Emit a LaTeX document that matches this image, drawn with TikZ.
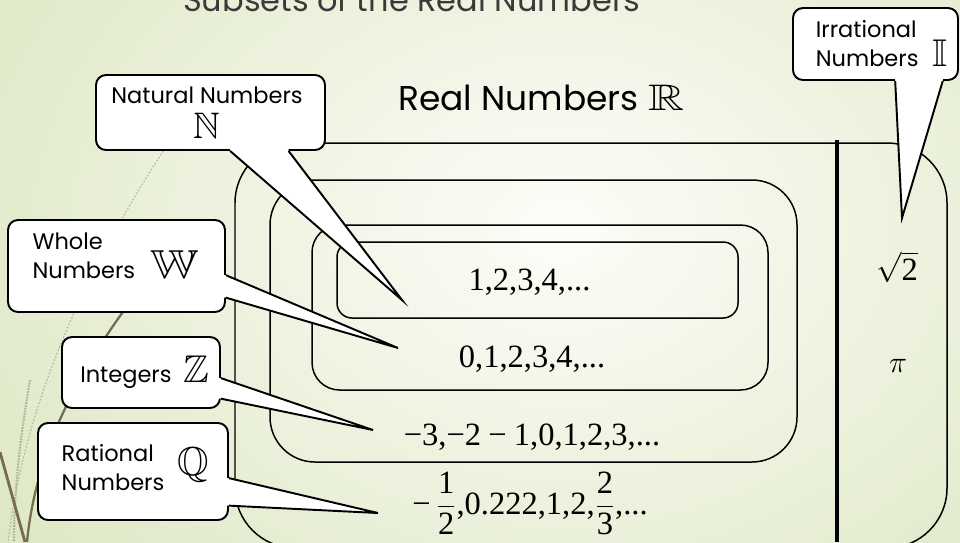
\documentclass[tikz,border=0pt]{standalone}
\usepackage{amsmath,amssymb}
\usepackage{fontspec}
\newfontfamily\gothic{Poppins}
\newfontfamily\numfont{Liberation Serif}
\usetikzlibrary{calc}
\definecolor{bgin}{HTML}{FCFDF8}
\definecolor{bgout}{HTML}{D6E2B8}
\definecolor{stem}{HTML}{776C52}
\definecolor{stemfaint}{HTML}{B3B497}
\definecolor{titlegray}{HTML}{3A3A3A}

\begin{document}
\begin{tikzpicture}[x=0.02cm,y=-0.02cm,
  setbox/.style={draw,line width=0.85pt},
  callbox/.style={draw,fill=white,line width=1.1pt,rounded corners=0.2cm,inner sep=0pt},
  calltxt/.style={font=\gothic\fontsize{12.8}{16.5}\selectfont,inner sep=0pt,align=left},
  settxt/.style={font=\numfont\fontsize{18.5}{22}\selectfont,inner sep=0pt,anchor=base},
  tailline/.style={line width=1.1pt,line join=miter}]
  \useasboundingbox (0,0) rectangle (960,542);
  \clip (0,0) rectangle (960,542);
  \shade[inner color=bgin,outer color=bgout] (-300,-420) rectangle (1420,880);

  \draw[stemfaint,line width=0.6pt,dash pattern=on 1pt off 1pt] (205,90) .. controls (90,250) and (25,400) .. (8,542);
  \draw[stemfaint,line width=1.2pt,dash pattern=on 1pt off 0.6pt] (30,380) .. controls (18,450) and (14,500) .. (14,542);
  \draw[stem,line width=1.3pt] (125,309) .. controls (70,385) and (35,460) .. (27,542);
  \draw[stem,line width=1.6pt] (0,452) -- (25,542);

  \draw[setbox,rounded corners=1.2cm] (235,143) rectangle (947,548);
  \draw[setbox,rounded corners=0.9cm] (270,180) rectangle (797,462);
  \draw[setbox,rounded corners=0.55cm] (312,225) rectangle (768,390);
  \draw[setbox,rounded corners=0.3cm] (337,242) rectangle (738,318);
  \draw[line width=2.4pt] (837,140) -- (837,542);

  \node[font=\gothic\fontsize{18.2}{18.2}\selectfont,text=titlegray,anchor=base west] (title) at (177,11) {Subsets of the Real Numbers};
  \node[font=\gothic\fontsize{19.6}{19.6}\selectfont,anchor=base west] (real) at (392,110) {Real Numbers\hspace{0.3em}\scalebox{1.35}[1]{\fontsize{21}{21}\selectfont$\mathbb{R}$}};

  \node[settxt] (nat) at (529.5,290) {1,2,3,4,...};
  \node[settxt] (whole) at (532,367) {0,1,2,3,4,...};
  \node[settxt] (int) at (532,445) {−3,−2\:−\:1,0,1,2,3,...};
  \node[settxt] (rat) at (530,514) {−\,$\dfrac{\mbox{1}}{\mbox{2}}$,0.222,1,2,$\dfrac{\mbox{2}}{\mbox{3}}$,...};
  \node[settxt] (root) at (897,280) {$\sqrt{\mbox{2}}$};
  \node[settxt] (pi) at (898,372) {$\pi$};

  \node[callbox,minimum width=4.58cm,minimum height=1.5cm] (natbox) at (210.5,112.5) {};
  \node[calltxt,align=center] (natlbl) at (207,112.5) {Natural Numbers\\[3.5pt]{\fontsize{21}{21}\selectfont$\mathbb{N}$}};
  \coordinate (natA) at ($(natbox.south west)!0.585!(natbox.south east)$);
  \coordinate (natB) at ($(natbox.south west)!0.838!(natbox.south east)$);
  \coordinate (natTip) at (402,300);
  \fill[white] ($(natA)+(0,-3)$) -- (natA) -- (natTip) -- (natB) -- ($(natB)+(0,-3)$) -- cycle;
  \draw[tailline] (natA) -- (natTip) -- (natB);

  \node[callbox,minimum width=3.3cm,minimum height=1.44cm] (irrbox) at (875.5,44) {};
  \node[calltxt] (irrlbl) at (881.5,46) {\begin{tabular}[b]{@{}l@{}}Irrational\\Numbers\end{tabular}\hspace{0.6em}{\fontsize{22}{22}\selectfont$\mathbb{I}$}};
  \coordinate (irrA) at ($(irrbox.south west)!0.618!(irrbox.south east)$);
  \coordinate (irrB) at ($(irrbox.south west)!0.903!(irrbox.south east)$);
  \coordinate (irrTip) at (902,218);
  \fill[white] ($(irrA)+(0,-3)$) -- (irrA) -- (irrTip) -- (irrB) -- ($(irrB)+(0,-3)$) -- cycle;
  \draw[tailline] (irrA) -- (irrTip) -- (irrB);

  \node[callbox,minimum width=4.34cm,minimum height=1.84cm] (wbox) at (116.5,266) {};
  \node[calltxt] (wlbl) at (116,258) {\begin{tabular}[b]{@{}l@{}}Whole\\Numbers\end{tabular}\hspace{0.7em}\scalebox{1.2}[1]{\fontsize{23}{23}\selectfont$\mathbb{W}$}};
  \coordinate (wA) at ($(wbox.north east)!0.598!(wbox.south east)$);
  \coordinate (wB) at ($(wbox.north east)!0.837!(wbox.south east)$);
  \coordinate (wTip) at (398,348);
  \fill[white] ($(wA)+(-3,0)$) -- (wA) -- (wTip) -- (wB) -- ($(wB)+(-3,0)$) -- cycle;
  \draw[tailline] (wA) -- (wTip) -- (wB);

  \node[callbox,minimum width=3.16cm,minimum height=1.42cm] (zbox) at (141,372.5) {};
  \node[calltxt] (zlbl) at (145,372) {Integers\hspace{0.55em}{\fontsize{22}{22}\selectfont$\mathbb{Z}$}};
  \coordinate (zA) at ($(zbox.north east)!0.577!(zbox.south east)$);
  \coordinate (zB) at ($(zbox.north east)!0.859!(zbox.south east)$);
  \coordinate (zTip) at (373,430);
  \fill[white] ($(zA)+(-3,0)$) -- (zA) -- (zTip) -- (zB) -- ($(zB)+(-3,0)$) -- cycle;
  \draw[tailline] (zA) -- (zTip) -- (zB);

  \node[callbox,minimum width=3.8cm,minimum height=1.94cm] (qbox) at (133,471.5) {};
  \node[calltxt] (qlbl) at (135.5,470) {\begin{tabular}{@{}l@{}}Rational\\Numbers\end{tabular}\hspace{0.6em}{\fontsize{23}{23}\selectfont$\mathbb{Q}$}};
  \coordinate (qA) at ($(qbox.north east)!0.567!(qbox.south east)$);
  \coordinate (qB) at ($(qbox.north east)!0.845!(qbox.south east)$);
  \coordinate (qTip) at (378,513);
  \fill[white] ($(qA)+(-3,0)$) -- (qA) -- (qTip) -- (qB) -- ($(qB)+(-3,0)$) -- cycle;
  \draw[tailline] (qA) -- (qTip) -- (qB);
\end{tikzpicture}
\end{document}
